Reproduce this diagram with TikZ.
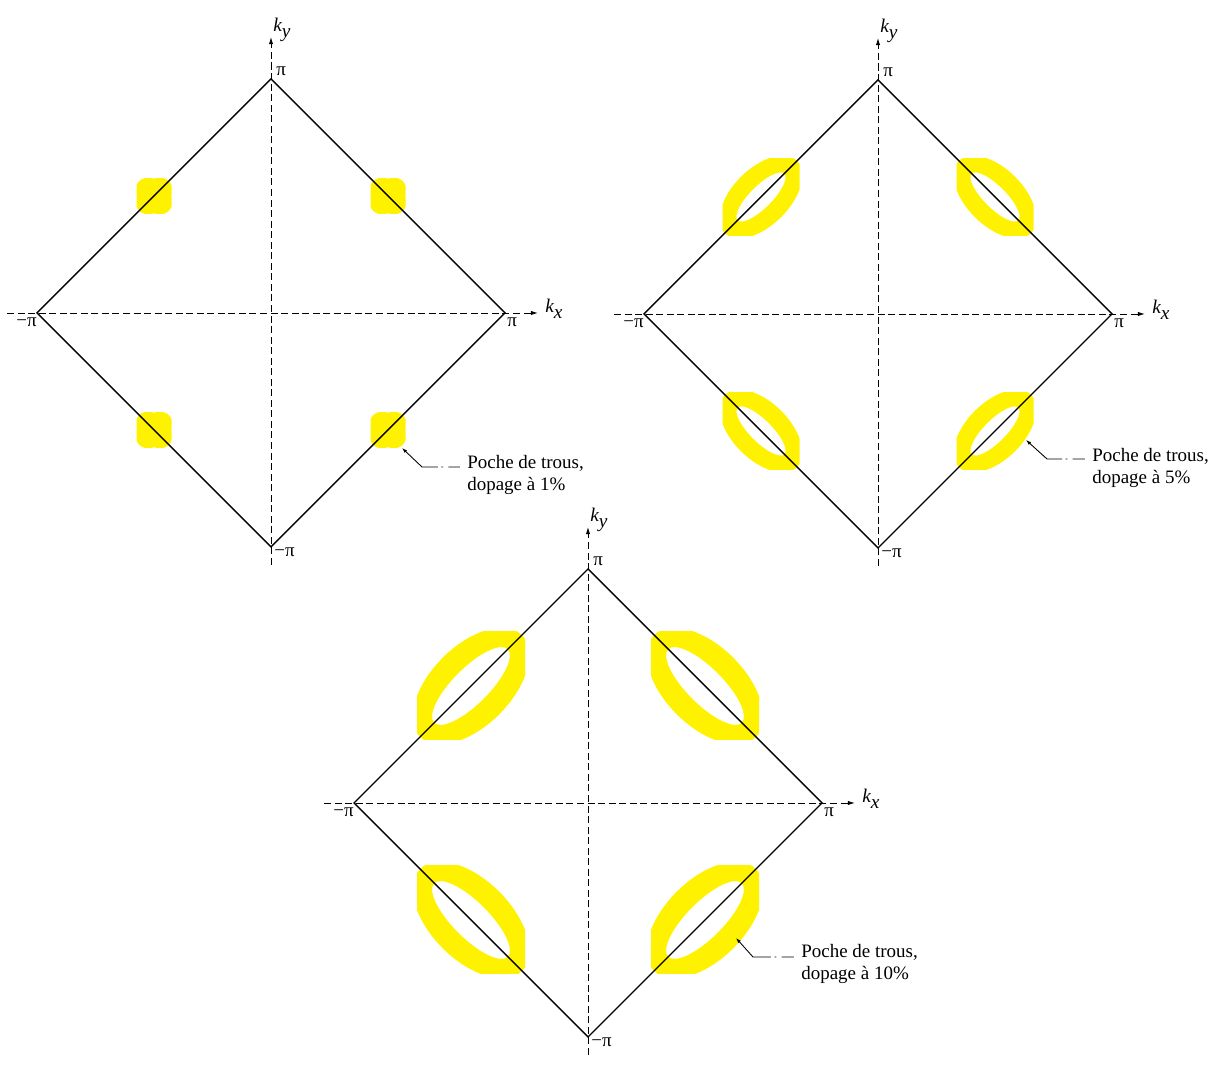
\documentclass[tikz,border=0pt]{standalone}
\usepackage{fontspec}
\setmainfont{Liberation Serif}
\usetikzlibrary{arrows.meta}

\begin{document}
\begin{tikzpicture}[
    x=0.02cm, y=0.02cm,
    font=\fontsize{10.8}{12.5}\selectfont,
    >={Latex[length=4pt, width=2.4pt]},
    % Styles
    zone/.style={draw=black, line width=0.8pt},
    axis/.style={draw=black, line width=0.5pt, dash pattern=on 4pt off 2pt},
    pocket/.style={fill=yellow, draw=none, even odd rule},
    lbl/.style={inner sep=0pt},
    klbl/.style={inner sep=0pt, font=\fontsize{11}{12}\selectfont\itshape},
    note/.style={inner sep=0pt, align=left, anchor=north west},
    leader/.style={
        line width=0.5pt,
        dash pattern=on 22pt off 2pt on 1pt off 3pt on 30pt,
        {Latex[length=3pt, width=2pt]}-, shorten >=4pt
    },
]
\useasboundingbox (0,0) rectangle (1218,1068);

%% ---- HOLE POCKETS: 1 % doping ----
\begin{scope}[shift={(271,755)}]
  \foreach \sx/\sy in {-1/1, 1/1, -1/-1, 1/-1} {
    \coordinate (p) at ({117*\sx},{117*\sy});
    \begin{scope}
      \clip ([shift={(-17.5,-17.5)}]p) rectangle ([shift={(17.5,17.5)}]p);
      \fill[pocket, rotate around={45:(p)}] (p) ellipse [x radius=21, y radius=15];
      \fill[pocket, rotate around={-45:(p)}] (p) ellipse [x radius=21, y radius=15];
    \end{scope}
  }
\end{scope}

%% ---- HOLE POCKETS: 5 % and 10 % doping ----
\foreach \cx/\cy/\A/\B/\a/\b/\h in {878/754/51/28.5/33/11/38.5, 588/265/72/40/52/18/54} {
  \begin{scope}[shift={(\cx,\cy)}]
    \foreach \sx/\sy in {-1/1, 1/1, -1/-1, 1/-1} {
      \pgfmathsetmacro\ang{-45*\sx*\sy}
      \coordinate (p) at ({117*\sx},{117*\sy});
      \begin{scope}
        \clip ([shift={(-\h,-\h)}]p) rectangle ([shift={(\h,\h)}]p);
        \fill[pocket, rotate around={\ang:(p)}]
            (p) ellipse [x radius=\A, y radius=\B]
            (p) ellipse [x radius=\a, y radius=\b];
      \end{scope}
    }
  \end{scope}
}

%% ---- ZONES: axes, diamond, labels ----
\foreach \cx/\cy/\n in {271/755/1, 878/754/2, 588/265/3} {
  \begin{scope}[shift={(\cx,\cy)}]
    \coordinate (L\n) at (-234,0);
    \coordinate (T\n) at (0,234);
    \coordinate (R\n) at (234,0);
    \coordinate (B\n) at (0,-234);
    \coordinate (xs\n) at (-264,0);
    \coordinate (xe\n) at (267,0);
    \coordinate (ys\n) at (0,-252);
    \coordinate (ye\n) at (0,276);

    % axes
    \draw[axis, ->] (xs\n) -- (xe\n);
    \draw[axis, ->] (ys\n) -- (ye\n);

    % first Brillouin zone
    \draw[zone] (L\n) -- (T\n) -- (R\n) -- (B\n) -- cycle;

    % labels
    \node[klbl, anchor=base west] (kx\n) at (274,0) {k\raisebox{-3.4pt}{x}};
    \node[klbl, anchor=base west] (ky\n) at (2,281) {k\raisebox{-3.4pt}{y}};
    \node[lbl, anchor=base west] (pt\n) at (5,237) {π};
    \node[lbl, anchor=base west] (pb\n) at (3,-244) {−π};
    \node[lbl, anchor=base east] (pl\n) at (-234,-14) {−π};
    \node[lbl, anchor=base west] (pr\n) at (236,-14) {π};
  \end{scope}
}

%% ---- NOTES ----
\foreach \n/\tx/\ty/\kx/\ky/\nx/\ny/\pc in {1/402/620/422/601/467/613/1,
    2/1026/628/1047/609/1092/620/5, 3/736/130/753/111/801/124/10} {
  \coordinate (tip\n) at (\tx,\ty);
  \coordinate (knee\n) at (\kx,\ky);
  \node[note] (note\n) at (\nx,\ny) {Poche de trous,\\dopage à \pc\%};
  \draw[leader] (tip\n) -- (knee\n) -- (knee\n -| note\n.west);
}

\end{tikzpicture}
\end{document}
